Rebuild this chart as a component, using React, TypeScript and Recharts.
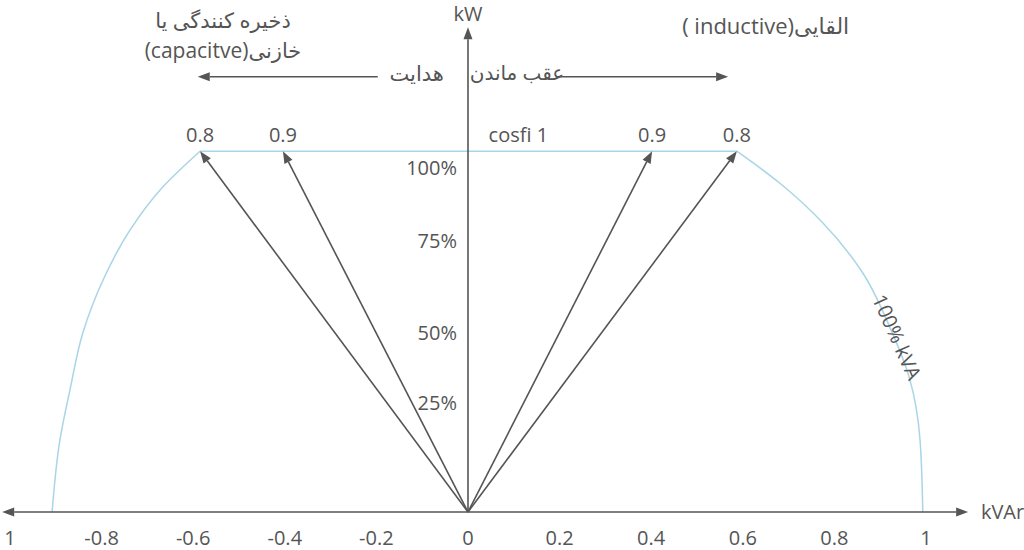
import React from "react";
import { LineChart, Line, XAxis, YAxis, ReferenceLine, ReferenceDot } from "recharts";

const xTicks = [-1, -0.8, -0.6, -0.4, -0.2, 0, 0.2, 0.4, 0.6, 0.8, 1];

// 100% kVA boundary (ordered by rising kW)
const leftArc = [
  { x: -0.908, y: 0 },
  { x: -0.891, y: 0.16 },
  { x: -0.869, y: 0.271 },
  { x: -0.841, y: 0.397 },
  { x: -0.797, y: 0.514 },
  { x: -0.738, y: 0.625 },
  { x: -0.666, y: 0.721 },
  { x: -0.585, y: 0.8 },
];
const topLine = [
  { x: -0.585, y: 0.8 },
  { x: 0.587, y: 0.8 },
];
const rightArc = [
  { x: 0.993, y: 0 },
  { x: 0.987, y: 0.16 },
  { x: 0.965, y: 0.293 },
  { x: 0.921, y: 0.41 },
  { x: 0.862, y: 0.53 },
  { x: 0.775, y: 0.641 },
  { x: 0.681, y: 0.729 },
  { x: 0.587, y: 0.8 },
];

// power factor vectors
const pfTips = [
  { x: -0.585, y: 0.8, label: "0.8" },
  { x: -0.404, y: 0.8, label: "0.9" },
  { x: 0.402, y: 0.8, label: "0.9" },
  { x: 0.587, y: 0.8, label: "0.8" },
];

const percentLabels = [
  { y: 0.763, text: "100%" },
  { y: 0.603, text: "75%" },
  { y: 0.397, text: "50%" },
  { y: 0.242, text: "25%" },
];

const GRAY = "#555555";
const BLUE = "#a9d5e7";
const FONT = "'Open Sans', 'DejaVu Sans', sans-serif";

const Arrow = (p: any) => {
  const { x1, y1, x2, y2 } = p;
  const a = Math.atan2(y2 - y1, x2 - x1);
  const L = 12;
  const W = 4.5;
  const bx = x2 - L * Math.cos(a);
  const by = y2 - L * Math.sin(a);
  const nx = -Math.sin(a) * W;
  const ny = Math.cos(a) * W;
  return (
    <g>
      <line x1={x1} y1={y1} x2={bx} y2={by} stroke={GRAY} strokeWidth={1.6} />
      <polygon points={`${x2},${y2} ${bx + nx},${by + ny} ${bx - nx},${by - ny}`} fill={GRAY} />
    </g>
  );
};

const txt = (text: string, anchor = "middle", rotate = 0, size = 20) => (p: any) => (
  <text
    x={p.cx}
    y={p.cy}
    textAnchor={anchor}
    dominantBaseline="central"
    fontFamily={FONT}
    fontSize={size}
    fill={GRAY}
    transform={rotate ? `rotate(${rotate}, ${p.cx}, ${p.cy})` : undefined}
  >
    {text}
  </text>
);

const arcProps = {
  dataKey: "y",
  stroke: BLUE,
  strokeWidth: 1.5,
  dot: false,
  activeDot: false,
  isAnimationActive: false,
} as const;

export default function App() {
  return (
    <div style={{ position: "absolute", left: 0, top: 0 }}>
      <LineChart width={1024} height={550} margin={{ top: 0, right: 0, bottom: 0, left: 0 }}>
        <XAxis
          type="number"
          dataKey="x"
          domain={[-1.0218, 1.214]}
          allowDataOverflow
          ticks={xTicks}
          axisLine={false}
          tickLine={false}
          tickSize={0}
          tickMargin={19}
          height={38}
          interval={0}
          tickFormatter={(v: number) => (v === -1 ? "1" : String(v))}
          tick={{ fill: GRAY, fontSize: 20, fontFamily: FONT }}
        />
        <YAxis type="number" domain={[0, 1.1353]} allowDataOverflow hide />

        <Line data={leftArc} type="monotoneY" {...arcProps} />
        <Line data={topLine} type="linear" {...arcProps} />
        <Line data={rightArc} type="monotoneY" {...arcProps} />

        {/* axes */}
        <ReferenceLine segment={[{ x: 0, y: 0 }, { x: -1.017, y: 0 }]} shape={Arrow} ifOverflow="visible" />
        <ReferenceLine segment={[{ x: 0, y: 0 }, { x: 1.092, y: 0 }]} shape={Arrow} ifOverflow="visible" />
        <ReferenceLine segment={[{ x: 0, y: 0 }, { x: 0, y: 1.075 }]} shape={Arrow} ifOverflow="visible" />

        {/* leading / lagging arrows */}
        <ReferenceLine segment={[{ x: -0.197, y: 0.965 }, { x: -0.59, y: 0.965 }]} shape={Arrow} ifOverflow="visible" />
        <ReferenceLine segment={[{ x: 0.197, y: 0.965 }, { x: 0.568, y: 0.965 }]} shape={Arrow} ifOverflow="visible" />

        {pfTips.map((t, i) => (
          <ReferenceLine key={`v${i}`} segment={[{ x: 0, y: 0 }, { x: t.x, y: t.y }]} shape={Arrow} ifOverflow="visible" />
        ))}
        {pfTips.map((t, i) => (
          <ReferenceDot key={`l${i}`} x={t.x} y={0.836} r={0} ifOverflow="visible" shape={txt(t.label)} />
        ))}
        <ReferenceDot x={0.11} y={0.836} r={0} ifOverflow="visible" shape={txt("cosfi 1")} />

        {percentLabels.map((p, i) => (
          <ReferenceDot key={`p${i}`} x={-0.024} y={p.y} r={0} ifOverflow="visible" shape={txt(p.text, "end")} />
        ))}

        <ReferenceDot x={0} y={1.106} r={0} ifOverflow="visible" shape={txt("kW")} />
        <ReferenceDot x={1.12} y={0.002} r={0} ifOverflow="visible" shape={txt("kVAr", "start")} />
        <ReferenceDot x={0.937} y={0.388} r={0} ifOverflow="visible" shape={txt("100% kVA", "middle", 66)} />

        <ReferenceDot x={-0.112} y={0.973} r={0} ifOverflow="visible" shape={txt("هدایت", "middle", 0, 21)} />
        <ReferenceDot x={0.107} y={0.975} r={0} ifOverflow="visible" shape={txt("عقب ماندن", "middle", 0, 20)} />

        <ReferenceDot x={-0.535} y={1.091} r={0} ifOverflow="visible" shape={txt("ذخیره کنندگی یا", "middle", 0, 21)} />
        <ReferenceDot x={-0.535} y={1.025} r={0} ifOverflow="visible" shape={txt("(capacitve)خازنی", "middle", 0, 21)} />
        <ReferenceDot x={0.65} y={1.079} r={0} ifOverflow="visible" shape={txt("( inductive)القایی", "middle", 0, 22)} />
      </LineChart>
    </div>
  );
}
